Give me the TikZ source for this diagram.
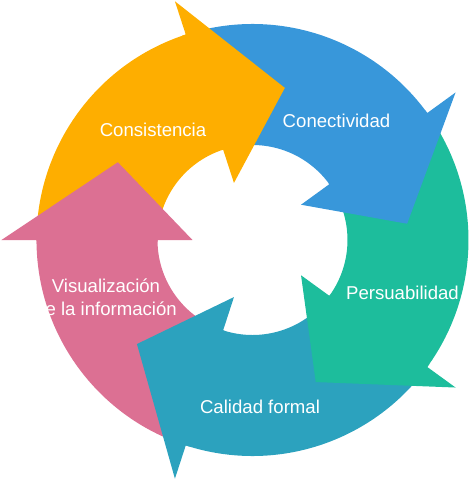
\documentclass[tikz,border=0pt]{standalone}
\usepackage{fontspec}
\setmainfont{Liberation Sans}
\definecolor{cYel}{HTML}{FEAE00}
\definecolor{cBlu}{HTML}{3897DA}
\definecolor{cTea}{HTML}{1DBD9C}
\definecolor{cCya}{HTML}{2CA2BE}
\definecolor{cPin}{HTML}{DC7093}
\tikzset{
  lbl/.style={text=white, font=\fontsize{18.6}{22}\selectfont, inner sep=0pt, anchor=base},
}
\newcommand{\ringbody}[2]{% start angle, colour
  \fill[#2] (#1:216) arc[start angle=#1, end angle=#1-72, radius=216] -- (#1-72:95) arc[start angle=#1-72, end angle=#1, radius=95] -- cycle;}
\newcommand{\ringhead}[2]{% base angle, colour (with a thin strip over the body seam)
  \fill[#2] (#1:60) -- (#1:95) -- (#1+1:95) -- (#1+1:216) -- (#1:216) -- (#1:251) -- (#1-30:155.5) -- cycle;}
\begin{document}
\begin{tikzpicture}[x=1pt,y=1pt]
\useasboundingbox (-252.5,-240) rectangle (217.5,240);
% bodies
\ringbody{252}{cPin}
\ringbody{180}{cYel}
\ringbody{108}{cBlu}
\ringbody{36}{cTea}
\ringbody{-36}{cCya}
% heads
\ringhead{180}{cPin}
\ringhead{108}{cYel}
\ringhead{36}{cBlu}
\ringhead{-36}{cTea}
\ringhead{-108}{cCya}
% labels
\node[lbl] (cons) at (-99.5,103.3) {Consistencia};
\node[lbl] (conec) at (84,112.3) {Conectividad};
\node[lbl] (pers) at (150,-59.3) {Persuabilidad};
\node[lbl] (cal) at (7.5,-173) {Calidad formal};
\node[lbl] (vis1) at (-146.5,-52.7) {Visualización};
\node[lbl] (vis2) at (-146.5,-75) {de la información};
\end{tikzpicture}
\end{document}
